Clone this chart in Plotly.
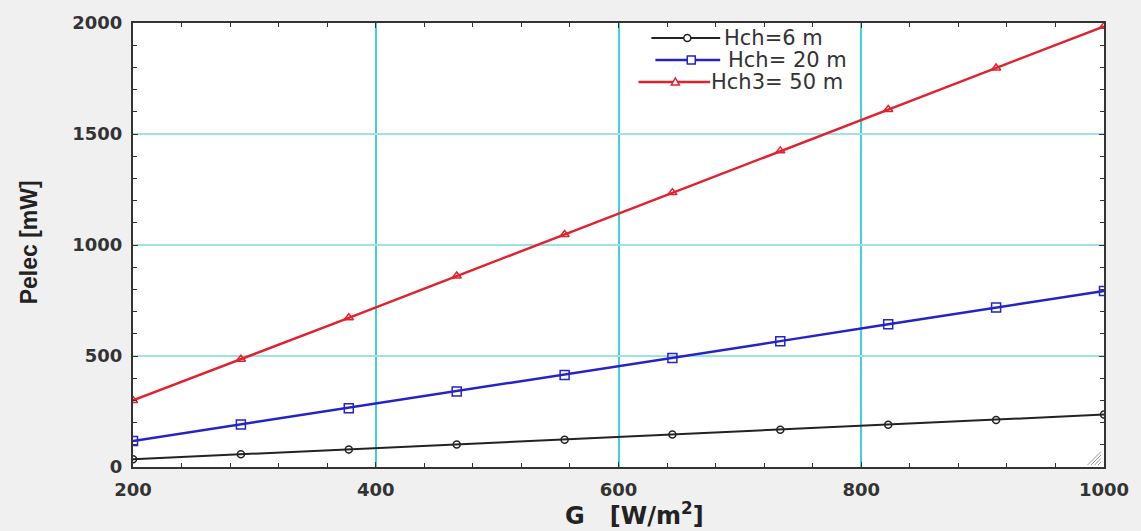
import plotly.graph_objects as go

# Irradiance G [W/m2] and electric power Pelec [mW] for three heights
G = [200, 288.9, 377.8, 466.7, 555.6, 644.4, 733.3, 822.2, 911.1, 1000]
P_6 = [35, 57, 79, 101, 123, 146, 168, 190, 212, 236]
P_20 = [117, 192, 265, 340, 414, 491, 567, 643, 718, 793]
P_50 = [300, 485, 672, 860, 1047, 1236, 1424, 1610, 1797, 1985]
series_names = ["Hch=6 m", "Hch= 20 m", "Hch3= 50 m"]

x_ticks = [200, 400, 600, 800, 1000]
y_ticks = [0, 500, 1000, 1500, 2000]

colors = ["#222222", "#2323c8", "#e0222e"]
symbols = ["circle-open", "square-open", "triangle-up-open"]
marker_sizes = [7, 9, 8]
line_widths = [2, 2.5, 2.5]

W, H = 1141, 531
L, R, T, B = 133, 34, 23, 64
PW, PH = W - L - R, H - T - B


def px_to_paper(px, py):
    return (px - L) / PW, (H - B - py) / PH


fig = go.Figure()
for ys, name, c, s, ms, lw in zip([P_6, P_20, P_50], series_names, colors,
                                   symbols, marker_sizes, line_widths):
    fig.add_trace(go.Scatter(
        x=G, y=ys, name=name, mode="lines+markers",
        line=dict(color=c, width=lw),
        marker=dict(symbol=s, size=ms, color=c, line=dict(width=1.5, color=c)),
        showlegend=False,
    ))

axis_font = dict(family="DejaVu Sans", size=18, color="#333333", weight="bold")

fig.update_xaxes(
    range=[200, 1000], tickvals=x_ticks, ticktext=[str(v) for v in x_ticks],
    showgrid=True, gridcolor="#3fd3d6", gridwidth=1.6,
    showline=True, linecolor="#333333", linewidth=2, mirror="allticks",
    ticks="inside", ticklen=5, tickcolor="#333333",
    minor=dict(dtick=40, ticks="inside", ticklen=4, tickcolor="#333333", showgrid=False),
    tickfont=axis_font, zeroline=False, ticklabelstandoff=5,
)
fig.update_yaxes(
    range=[0, 2000], tickvals=y_ticks, ticktext=[str(v) for v in y_ticks],
    showgrid=True, gridcolor="#9fe2e4", gridwidth=1.6,
    showline=True, linecolor="#333333", linewidth=2, mirror="allticks",
    ticks="inside", ticklen=5, tickcolor="#333333",
    minor=dict(dtick=100, ticks="inside", ticklen=4, tickcolor="#333333", showgrid=False),
    tickfont=axis_font, zeroline=False, ticklabelstandoff=5,
)

annotations = []
shapes = []

# Axis titles
xt, yt = px_to_paper(636, 514)
annotations.append(dict(
    x=xt, y=yt, xref="paper", yref="paper", showarrow=False,
    text="G\u00a0\u00a0\u00a0[W/m<sup>2</sup>]", xanchor="center", yanchor="middle",
    font=dict(family="DejaVu Sans", size=24, color="#222222", weight="bold"),
))
xt, yt = px_to_paper(29, 242)
annotations.append(dict(
    x=xt, y=yt, xref="paper", yref="paper", showarrow=False, textangle=-90,
    text="Pelec [mW]", xanchor="center", yanchor="middle",
    font=dict(family="Liberation Sans", size=23, color="#222222", weight="bold"),
))

# Legend: sample line, marker glyph, label
legend_rows = [
    # line start, line end, marker x, row y, text start
    (653, 722, 689, 38, 724),
    (657, 722, 693, 60, 728),
    (640, 712, 677, 82, 711),
]
glyph_paths = {
    "square-open": "M-4,-4 L4,-4 L4,4 L-4,4 Z",
    "triangle-up-open": "M-4,-3 L4,-3 L0,4 Z",
}
for (lx0, lx1, mx, ry, tx), name, c, s, lw in zip(legend_rows, series_names,
                                                  colors, symbols, line_widths):
    x0, y0 = px_to_paper(lx0, ry)
    x1, _ = px_to_paper(lx1, ry)
    shapes.append(dict(type="line", xref="paper", yref="paper", x0=x0, x1=x1,
                       y0=y0, y1=y0, line=dict(color=c, width=lw), layer="above"))
    mxp, _ = px_to_paper(mx, ry)
    if s == "circle-open":
        shapes.append(dict(type="circle", xref="paper", yref="paper",
                           xsizemode="pixel", ysizemode="pixel",
                           xanchor=mxp, yanchor=y0, x0=-3.5, x1=3.5, y0=-3.5, y1=3.5,
                           fillcolor="white", line=dict(color=c, width=1.5), layer="above"))
    else:
        shapes.append(dict(type="path", xref="paper", yref="paper",
                           xsizemode="pixel", ysizemode="pixel",
                           xanchor=mxp, yanchor=y0, path=glyph_paths[s],
                           fillcolor="white", line=dict(color=c, width=1.5), layer="above"))
    txp, _ = px_to_paper(tx, ry)
    annotations.append(dict(
        x=txp, y=y0, xref="paper", yref="paper", showarrow=False, text=name,
        xanchor="left", yanchor="middle",
        font=dict(family="DejaVu Sans", size=21, color="#333333"),
    ))

# Small hatched corner grip at the lower right of the plot area
for k in range(4):
    a = 3 + 3.5 * k
    xa, ya = px_to_paper(1104 - a, 465)
    xb, yb = px_to_paper(1104, 465 - a)
    shapes.append(dict(type="line", xref="paper", yref="paper", x0=xa, y0=ya,
                       x1=xb, y1=yb, line=dict(color="#9a9a9a", width=1), layer="above"))

fig.update_layout(
    width=W, height=H,
    margin=dict(l=L, r=R, t=T, b=B),
    paper_bgcolor="#f0f0f0", plot_bgcolor="white",
    annotations=annotations, shapes=shapes,
    showlegend=False,
)

fig.write_html("out.html")
